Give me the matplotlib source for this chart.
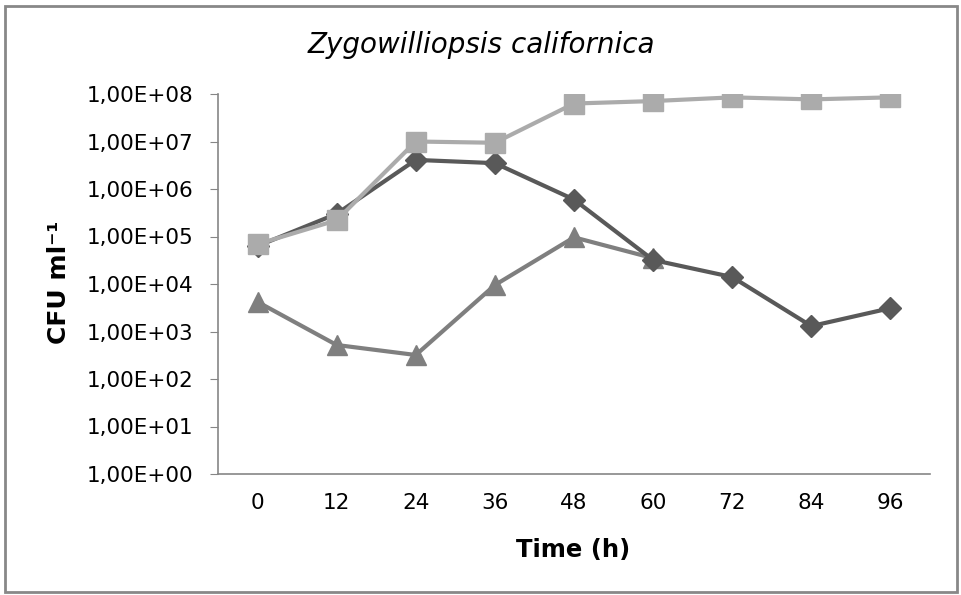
import numpy as np
import matplotlib
matplotlib.use('Agg')
import matplotlib.pyplot as plt
from matplotlib.patches import Rectangle
from matplotlib.ticker import FixedLocator, NullLocator

plt.rcParams['font.family'] = ['DejaVu Sans']

# data
hours = ['0', '12', '24', '36', '48', '60', '72', '84', '96']
diamonds = [6.3e4, 3.0e5, 4.1e6, 3.5e6, 6.0e5, 3.2e4, 1.4e4, 1.3e3, 3.1e3]
squares = [6.9e4, 2.2e5, 1.0e7, 9.4e6, 6.3e7, 7.1e7, 8.5e7, 7.7e7, 8.5e7]
triangles = [4.2e3, 5.2e2, 3.2e2, 9.5e3, 9.6e4, 3.5e4]
ytick_vals = [1e0, 1e1, 1e2, 1e3, 1e4, 1e5, 1e6, 1e7, 1e8]
ytick_labels = ['1,00E+00', '1,00E+01', '1,00E+02', '1,00E+03', '1,00E+04',
                '1,00E+05', '1,00E+06', '1,00E+07', '1,00E+08']

fig = plt.figure(figsize=(9.61, 5.95), dpi=100)
ax = fig.add_axes([218/961, 121/595, 712/961, 380/595])

x = np.arange(len(hours))
ax.plot(x, diamonds, color='#595959', lw=3, marker='D', ms=11, zorder=3)
ax.plot(x, squares, color='#ababab', lw=3, marker='s', ms=15, zorder=4)
ax.plot(x[:len(triangles)], triangles, color='#7f7f7f', lw=3, marker='^', ms=15, zorder=2)

ax.set_yscale('log')
ax.set_ylim(1, 1e8)
ax.set_xlim(-0.5, len(hours) - 0.5)
ax.yaxis.set_major_locator(FixedLocator(ytick_vals))
ax.yaxis.set_minor_locator(NullLocator())
ax.set_yticklabels(ytick_labels)
ax.set_xticks(x)
ax.set_xticklabels(hours)

for s in ['top', 'right']:
    ax.spines[s].set_visible(False)
for s in ['left', 'bottom']:
    ax.spines[s].set_color('#868686')
    ax.spines[s].set_linewidth(1.2)
ax.tick_params(axis='y', length=6, color='#868686', labelsize=15.5, pad=12)
ax.tick_params(axis='x', length=0, labelsize=15.5, pad=14)

fig.text(573/961, 1 - 557/595, 'Time (h)', fontsize=17.5, fontweight='bold',
         ha='center', va='baseline')
fig.text(59/961, 1 - 282/595, 'CFU ml\u207b\u00b9', rotation=90, fontsize=18,
         fontweight='bold', ha='center', va='center')
fig.text(481/961, 1 - 53/595, 'Zygowilliopsis californica', fontsize=20,
         style='italic', ha='center', va='baseline')

fig.patches.append(Rectangle((5/961, 3/595), 952/961, 586/595, transform=fig.transFigure,
                             fill=False, edgecolor='#888888', lw=2))

fig.savefig('out.png', dpi=100)
